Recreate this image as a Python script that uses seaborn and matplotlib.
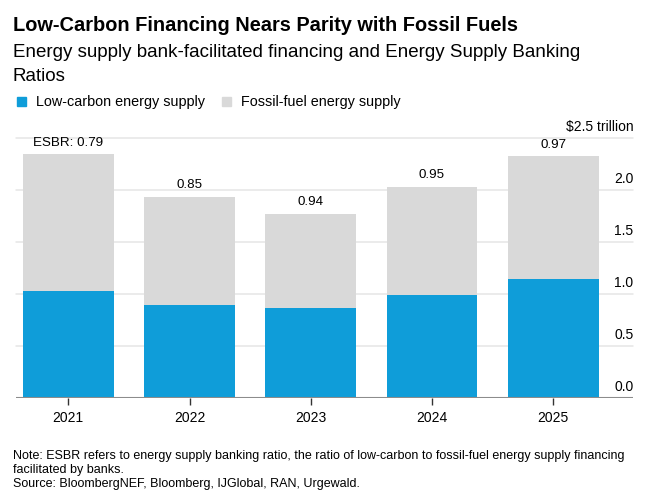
import numpy as np
import pandas as pd
import matplotlib
matplotlib.use("Agg")
import matplotlib.pyplot as plt
import seaborn as sns
from matplotlib.patches import Rectangle

# ==========================================
# DATA
# ==========================================

years = ["2021", "2022", "2023", "2024", "2025"]
low_carbon = [1.03, 0.89, 0.86, 0.99, 1.14]
fossil_fuel = [1.31, 1.04, 0.91, 1.04, 1.18]
esbr_labels = ["ESBR: 0.79", "0.85", "0.94", "0.95", "0.97"]
y_ticks = [0.0, 0.5, 1.0, 1.5, 2.0, 2.5]
y_tick_labels = ["0.0", "0.5", "1.0", "1.5", "2.0", "$2.5 trillion"]

df = pd.DataFrame({
    "Year": years,
    "Low-carbon": low_carbon,
    "Fossil-fuel": fossil_fuel,
})
df["Total"] = df["Low-carbon"] + df["Fossil-fuel"]

# ==========================================
# STYLE
# ==========================================

BLUE = "#0f9dd9"
GREY = "#d9d9d9"
GRID = "#e6e6e6"
TEXT = "#000000"

sns.set_theme(style="white")
plt.rcParams["font.family"] = ["Liberation Sans", "DejaVu Sans"]

W, H = 654, 498
fig = plt.figure(figsize=(W / 100, H / 100), dpi=100)

left, right, top, bottom = 16, 633.3, 137.7, 397.7
ax = fig.add_axes([left / W, 1 - bottom / H, (right - left) / W, (bottom - top) / H])

# ==========================================
# BARS
# ==========================================

sns.barplot(data=df, x="Year", y="Total", color=GREY, width=0.75,
            saturation=1, ax=ax, zorder=2, linewidth=0)
sns.barplot(data=df, x="Year", y="Low-carbon", color=BLUE, width=0.75,
            saturation=1, ax=ax, zorder=3, linewidth=0)

ax.set_xlim(-0.431, 4.66)
ax.set_ylim(0, 2.5)

for v in y_ticks[1:]:
    ax.axhline(v, color=GRID, lw=1.1, zorder=1, clip_on=False)
ax.axhline(0, color="#8c8c8c", lw=1.5, zorder=4)

for s in ax.spines.values():
    s.set_visible(False)

ax.set_yticks([])
ax.set_xlabel("")
ax.set_ylabel("")
ax.tick_params(axis="x", bottom=True, length=5, width=1, color="#333333",
               pad=4.5, labelsize=10, labelcolor=TEXT)

# right-side value labels above gridlines
for v, lab in zip(y_ticks, y_tick_labels):
    ax.annotate(lab, xy=(1, v), xycoords=("axes fraction", "data"),
                xytext=(0, 5), textcoords="offset points",
                ha="right", va="baseline", fontsize=10, color=TEXT,
                annotation_clip=False)

# ESBR labels above bars
for i, (tot, lab) in enumerate(zip(df["Total"], esbr_labels)):
    ax.annotate(lab, xy=(i, tot), xytext=(0, 6.2), textcoords="offset points",
                ha="center", va="baseline", fontsize=9.6, color=TEXT,
                annotation_clip=False)

# ==========================================
# TITLES, LEGEND, NOTES
# ==========================================

def fy(px):
    return 1 - px / H

fig.text(13 / W, fy(30.7), "Low-Carbon Financing Nears Parity with Fossil Fuels",
         fontsize=14.4, fontweight="bold", color=TEXT, va="baseline")
fig.text(13 / W, fy(57.3), "Energy supply bank-facilitated financing and Energy Supply Banking",
         fontsize=13.5, color=TEXT, va="baseline")
fig.text(13 / W, fy(81), "Ratios", fontsize=13.5, color=TEXT, va="baseline")

fig.patches.append(Rectangle((17.3 / W, fy(106)), 9 / W, 9 / H,
                             transform=fig.transFigure, color=BLUE))
fig.text(36 / W, fy(106), "Low-carbon energy supply", fontsize=10.4,
         color=TEXT, va="baseline")
fig.patches.append(Rectangle((222 / W, fy(106)), 9 / W, 9 / H,
                             transform=fig.transFigure, color=GREY))
fig.text(241 / W, fy(106), "Fossil-fuel energy supply", fontsize=10.4,
         color=TEXT, va="baseline")

fig.text(13 / W, fy(458.7),
         "Note: ESBR refers to energy supply banking ratio, the ratio of low-carbon to fossil-fuel energy supply financing",
         fontsize=9.0, color=TEXT, va="baseline")
fig.text(13 / W, fy(472.7), "facilitated by banks.", fontsize=9.0, color=TEXT, va="baseline")
fig.text(13 / W, fy(487.3), "Source: BloombergNEF, Bloomberg, IJGlobal, RAN, Urgewald.",
         fontsize=9.0, color=TEXT, va="baseline")

fig.savefig("out.png", dpi=100)
